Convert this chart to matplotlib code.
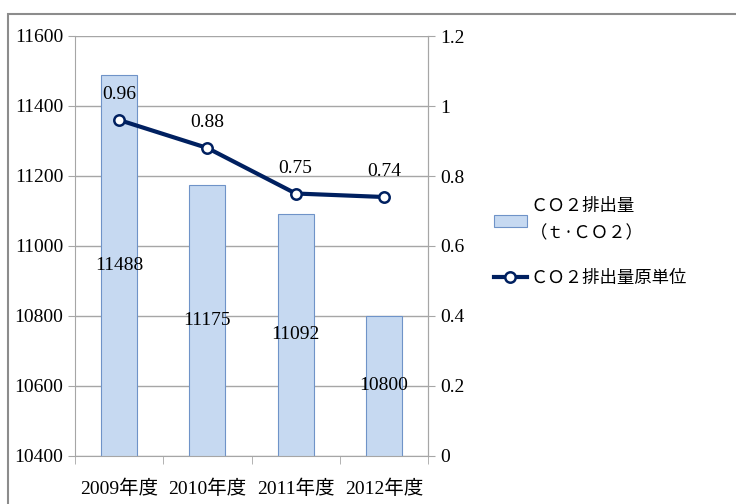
import matplotlib
matplotlib.use("Agg")
import matplotlib.pyplot as plt
from matplotlib.patches import Rectangle

# data
years = ["2009年度", "2010年度", "2011年度", "2012年度"]
emissions = [11488, 11175, 11092, 10800]
intensity = [0.96, 0.88, 0.75, 0.74]
bar_label = "ＣＯ２排出量\n（ｔ·ＣＯ２）"
line_label = "ＣＯ２排出量原単位"

serif = ["Liberation Serif", "Noto Sans CJK JP"]
gothic = ["Noto Sans CJK JP", "DejaVu Sans"]

fig = plt.figure(figsize=(7.36, 5.04), dpi=100)
ax = fig.add_axes([75/736, 48/504, 353/736, 420/504])

# outer chart border (clipped on right/bottom like the screenshot)
fig.patches.append(Rectangle((8/736, -0.1), 1.2, (504-14)/504 + 0.1,
                             transform=fig.transFigure, fill=False,
                             edgecolor="#8c8c8c", linewidth=1.5))

x = range(len(years))
bars = ax.bar(x, emissions, width=0.41, color="#c6d9f1", edgecolor="#6f93c8",
              linewidth=0.8, label=bar_label, zorder=2)
ax.set_ylim(10400, 11600)
ax.set_xlim(-0.5, 3.5)
ax.set_yticks(range(10400, 11601, 200))
ax.grid(axis="y", color="#a6a6a6", linewidth=1, zorder=0)
ax.spines["top"].set_visible(False)
for s in ["left", "right", "bottom"]:
    ax.spines[s].set_color("#a6a6a6")
ax.set_xticks([i for i in x])
ax.set_xticklabels(years, fontfamily=serif, fontsize=14)
ax.set_xticks([-0.5, 0.5, 1.5, 2.5, 3.5], minor=True)
ax.tick_params(axis="x", which="major", length=0, pad=17)
ax.tick_params(axis="x", which="minor", length=6, color="#a6a6a6")
ax.tick_params(axis="y", length=5, color="#a6a6a6", labelsize=14)
for t in ax.get_yticklabels():
    t.set_fontfamily(serif)

for xi, v in zip(x, emissions):
    ax.text(xi, (10400 + v) / 2, str(v), ha="center", va="center",
            fontsize=14, fontfamily=serif, zorder=3)

ax2 = ax.twinx()
ax2.plot(list(x), intensity, color="#002060", linewidth=3, marker="o",
         markersize=7.5, markerfacecolor="white", markeredgecolor="#002060",
         markeredgewidth=1.8, label=line_label, zorder=4)
ax2.set_ylim(0, 1.2)
ax2.set_yticks([0, 0.2, 0.4, 0.6, 0.8, 1.0, 1.2])
ax2.set_yticklabels(["0", "0.2", "0.4", "0.6", "0.8", "1", "1.2"])
ax2.tick_params(axis="y", length=5, color="#a6a6a6", labelsize=14)
for t in ax2.get_yticklabels():
    t.set_fontfamily(serif)
for s in ["top", "left", "bottom"]:
    ax2.spines[s].set_visible(False)
ax2.spines["right"].set_color("#a6a6a6")

for xi, v in zip(x, intensity):
    ax2.annotate(f"{v:.2f}", (xi, v), xytext=(0, 12), textcoords="offset points",
                 ha="center", va="bottom", fontsize=14, fontfamily=serif)

h1, l1 = ax.get_legend_handles_labels()
h2, l2 = ax2.get_legend_handles_labels()
leg = fig.legend(h1 + h2, l1 + l2, loc="center left", bbox_to_anchor=(478/736, 0.52),
                 frameon=False, prop={"family": gothic, "size": 12.5},
                 handlelength=1.9, labelspacing=1.5, handletextpad=0.2)
for t in leg.get_texts():
    t.set_linespacing(1.7)

fig.savefig("out.png", dpi=100)
